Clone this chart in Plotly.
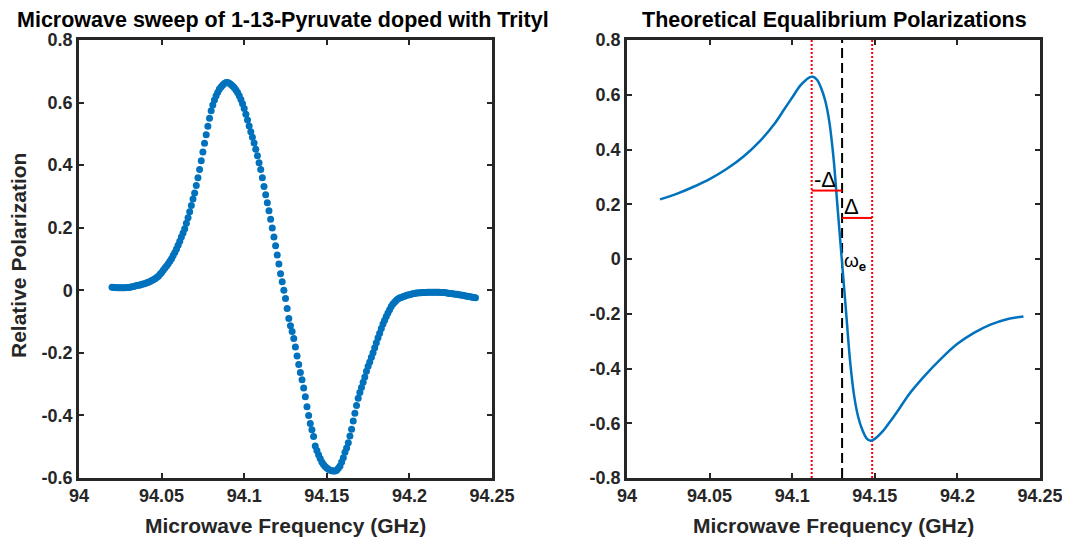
import plotly.graph_objects as go

# ---------------- data ----------------
sweep_start = 94.020
sweep_step = 0.001
sweep_pol = [
    0.010, 0.009, 0.009, 0.008, 0.008, 0.008, 0.008, 0.008, 0.008, 0.009,
    0.009, 0.010, 0.011, 0.012, 0.014, 0.015, 0.016, 0.017, 0.019, 0.020,
    0.022, 0.024, 0.026, 0.028, 0.031, 0.034, 0.037, 0.041, 0.045, 0.051,
    0.057, 0.064, 0.071, 0.078, 0.085, 0.093, 0.101, 0.111, 0.121, 0.132,
    0.144, 0.157, 0.170, 0.183, 0.197, 0.214, 0.232, 0.251, 0.271, 0.292,
    0.311, 0.335, 0.360, 0.386, 0.414, 0.442, 0.470, 0.497, 0.524, 0.550,
    0.574, 0.592, 0.608, 0.622, 0.633, 0.643, 0.650, 0.656, 0.661, 0.664,
    0.664, 0.662, 0.658, 0.653, 0.647, 0.640, 0.632, 0.622, 0.610, 0.596,
    0.581, 0.563, 0.544, 0.525, 0.507, 0.489, 0.471, 0.451, 0.430, 0.408,
    0.386, 0.360, 0.332, 0.305, 0.280, 0.254, 0.227, 0.199, 0.170, 0.142,
    0.113, 0.084, 0.053, 0.027, 0.000, -0.026, -0.058, -0.090, -0.113, -0.132,
    -0.154, -0.181, -0.210, -0.237, -0.263, -0.286, -0.312, -0.340, -0.372, -0.400,
    -0.426, -0.446, -0.467, -0.498, -0.512, -0.526, -0.538, -0.549, -0.557, -0.563,
    -0.568, -0.572, -0.575, -0.577, -0.578, -0.578, -0.575, -0.569, -0.562, -0.549,
    -0.535, -0.518, -0.504, -0.487, -0.466, -0.444, -0.418, -0.393, -0.368, -0.345,
    -0.327, -0.311, -0.294, -0.277, -0.259, -0.243, -0.229, -0.214, -0.200, -0.184,
    -0.168, -0.152, -0.137, -0.122, -0.108, -0.096, -0.084, -0.073, -0.062, -0.052,
    -0.044, -0.038, -0.033, -0.028, -0.025, -0.023, -0.021, -0.019, -0.017, -0.015,
    -0.014, -0.013, -0.011, -0.010, -0.009, -0.009, -0.008, -0.008, -0.007, -0.007,
    -0.007, -0.006, -0.006, -0.006, -0.006, -0.006, -0.006, -0.006, -0.006, -0.007,
    -0.007, -0.007, -0.008, -0.009, -0.010, -0.010, -0.011, -0.012, -0.013, -0.013,
    -0.014, -0.015, -0.016, -0.017, -0.018, -0.019, -0.020, -0.021, -0.022, -0.023,
    -0.024,
]
sweep_freq = [round(sweep_start + i * sweep_step, 3) for i in range(len(sweep_pol))]

theory_freq = [94.02, 94.03, 94.04, 94.05, 94.06, 94.07, 94.08, 94.09, 94.095, 94.10,
               94.105, 94.11, 94.1125, 94.115, 94.1175, 94.12, 94.1225, 94.125, 94.1275, 94.13,
               94.1325, 94.135, 94.1375, 94.14, 94.1425, 94.145, 94.1475, 94.15, 94.155, 94.16,
               94.165, 94.17, 94.18, 94.19, 94.20, 94.21, 94.22, 94.23, 94.24]
theory_pol = [0.218, 0.238, 0.263, 0.292, 0.328, 0.372, 0.428, 0.500, 0.545, 0.590,
              0.634, 0.662, 0.666, 0.655, 0.625, 0.578, 0.500, 0.370, 0.185, 0.0,
              -0.185, -0.370, -0.500, -0.578, -0.625, -0.655, -0.664, -0.657, -0.628, -0.588,
              -0.545, -0.500, -0.428, -0.365, -0.310, -0.270, -0.240, -0.220, -0.210]

omega_e = 94.1302
minus_delta_freq = 94.1118
plus_delta_freq = 94.1484
minus_bar_y = 0.25
plus_bar_y = 0.15

x_ticks = [94, 94.05, 94.1, 94.15, 94.2, 94.25]
x_tick_text = ["94", "94.05", "94.1", "94.15", "94.2", "94.25"]
y1_ticks = [0.8, 0.6, 0.4, 0.2, 0, -0.2, -0.4, -0.6]
y1_tick_text = ["0.8", "0.6", "0.4", "0.2", "0", "-0.2", "-0.4", "-0.6"]
y2_ticks = [0.8, 0.6, 0.4, 0.2, 0, -0.2, -0.4, -0.6, -0.8]
y2_tick_text = ["0.8", "0.6", "0.4", "0.2", "0", "-0.2", "-0.4", "-0.6", "-0.8"]

title_left = "Microwave sweep of 1-13-Pyruvate doped with Trityl"
title_right = "Theoretical Equalibrium Polarizations"
x_label = "Microwave Frequency (GHz)"
y_label = "Relative Polarization"

# ---------------- style ----------------
OFF = 8                      # default page body margin
W, H = 1070 - OFF, 539 - OFF
BLUE = "#0072BD"
AX = "#262626"
FONT = "Liberation Sans, Arial, sans-serif"


def px(x):
    return (x - OFF) / W


def py(y):
    return 1 - (y - OFF) / H


L1, R1 = 79, 492
L2, R2 = 627, 1040
TOP, BOT = 40, 478

fig = go.Figure()

fig.add_trace(go.Scatter(
    x=sweep_freq, y=sweep_pol, mode="markers", xaxis="x", yaxis="y",
    marker=dict(color=BLUE, size=7, line=dict(width=0)), showlegend=False))

# vertical reference lines (right panel)
for f in (minus_delta_freq, plus_delta_freq):
    fig.add_trace(go.Scatter(
        x=[f, f], y=[-0.8, 0.8], mode="lines", xaxis="x2", yaxis="y2",
        line=dict(color="#FF0000", width=2, dash="2px,2px"), showlegend=False))
fig.add_trace(go.Scatter(
    x=[omega_e, omega_e], y=[-0.8, 0.8], mode="lines", xaxis="x2", yaxis="y2",
    line=dict(color="black", width=2, dash="10px,5px"), showlegend=False))

fig.add_trace(go.Scatter(
    x=theory_freq, y=theory_pol, mode="lines", xaxis="x2", yaxis="y2",
    line=dict(color=BLUE, width=2.5, shape="spline", smoothing=0.8), showlegend=False))

# delta bars
fig.add_trace(go.Scatter(
    x=[minus_delta_freq, omega_e], y=[minus_bar_y, minus_bar_y], mode="lines",
    xaxis="x2", yaxis="y2", line=dict(color="#FF0000", width=2), showlegend=False))
fig.add_trace(go.Scatter(
    x=[omega_e, plus_delta_freq], y=[plus_bar_y, plus_bar_y], mode="lines",
    xaxis="x2", yaxis="y2", line=dict(color="#FF0000", width=2), showlegend=False))

axis_common = dict(
    showline=True, linecolor=AX, linewidth=2.5, mirror="ticks",
    ticks="inside", ticklen=5, tickwidth=2, tickcolor=AX,
    showgrid=False, zeroline=False, automargin=False,
    tickfont=dict(family=FONT, size=18, color=AX, weight="bold"),
)

fig.update_layout(
    width=W, height=H,
    margin=dict(l=0, r=0, t=0, b=0, autoexpand=False),
    paper_bgcolor="white", plot_bgcolor="white",
    xaxis=dict(domain=[px(L1), px(R1)], range=[94, 94.25], anchor="y",
               tickvals=x_ticks, ticktext=x_tick_text, **axis_common),
    yaxis=dict(domain=[py(BOT), py(TOP)], range=[-0.6, 0.8], anchor="x",
               tickvals=y1_ticks, ticktext=y1_tick_text, **axis_common),
    xaxis2=dict(domain=[px(L2), px(R2)], range=[94, 94.25], anchor="y2",
                tickvals=x_ticks, ticktext=x_tick_text, **axis_common),
    yaxis2=dict(domain=[py(BOT), py(TOP)], range=[-0.8, 0.8], anchor="x2",
                tickvals=y2_ticks, ticktext=y2_tick_text, **axis_common),
)


def ann(text, x, y, xref="paper", yref="paper", size=21, bold=True,
        xanchor="center", yanchor="middle", color="black", **kw):
    fig.add_annotation(text=text, x=x, y=y, xref=xref, yref=yref, showarrow=False,
                       xanchor=xanchor, yanchor=yanchor,
                       font=dict(family=FONT, size=size, color=color,
                                 weight="bold" if bold else "normal"), **kw)


ann(title_left, px((L1 + R1) / 2 - 3), py(20), size=21.5)
ann(title_right, px((L2 + R2) / 2 + 1), py(20), size=21.5)
ann(x_label, px((L1 + R1) / 2), py(525), color=AX)
ann(x_label, px((L2 + R2) / 2), py(525), color=AX)
ann(y_label, px(18), py(256), textangle=-90, color=AX)

ann("-Δ", minus_delta_freq, 0.29, xref="x2", yref="y2", size=22, bold=False, xanchor="left")
ann("Δ", omega_e, 0.19, xref="x2", yref="y2", size=22, bold=False, xanchor="left")
ann("ω<sub><b>e</b></sub>", omega_e, -0.01, xref="x2", yref="y2", size=19, bold=False, xanchor="left")

fig.write_html("out.html")
